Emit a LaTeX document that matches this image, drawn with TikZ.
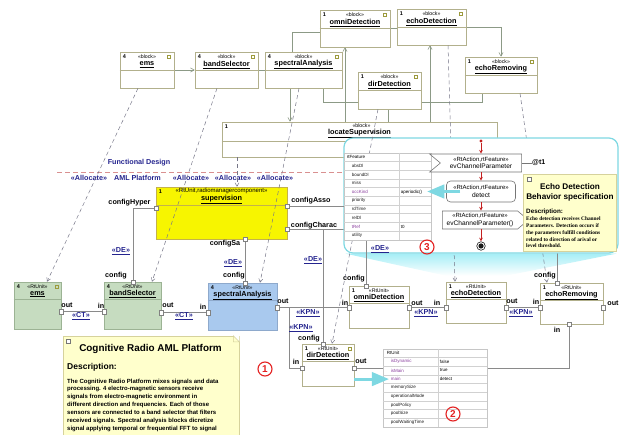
\documentclass[tikz,border=0pt]{standalone}
\usepackage{fontspec}
\setmainfont{Liberation Sans}
\newfontfamily\memoserif{Liberation Serif}
\usepackage{tikz}
\usetikzlibrary{positioning,shapes.symbols,arrows,calc,backgrounds}

\definecolor{ink}      {HTML}{1A1A1A}
\definecolor{blkedge}  {HTML}{B2B08C}
\definecolor{wirec}    {HTML}{8C9A86}
\definecolor{linkc}    {HTML}{8A8A8A}
\definecolor{rtgreen}  {HTML}{C6DCC0}
\definecolor{rtgreenln}{HTML}{9CB394}
\definecolor{rtblue}   {HTML}{A9C9EE}
\definecolor{rtblueln} {HTML}{8EA9CC}
\definecolor{supfill}  {HTML}{F7F500}
\definecolor{supln}    {HTML}{C4B24A}
\definecolor{memofill} {HTML}{FFFFCC}
\definecolor{memoln}   {HTML}{D6D29C}
\definecolor{navyink}  {HTML}{24248E}
\definecolor{flowred}  {HTML}{C42020}
\definecolor{numred}   {HTML}{E42222}
\definecolor{aqua}     {HTML}{7ED8E2}
\definecolor{aquafill} {HTML}{A6EEF6}
\definecolor{lilac}    {HTML}{8A3F9E}
\definecolor{sepred}   {HTML}{D99090}
\definecolor{dashc}    {HTML}{767688}
\definecolor{icoc}     {HTML}{9C9A3C}
\colorlet{rowc}{ink!20}
\tikzset{
  >=angle 60,
  % --- nodes
  blk/.style    = {draw=blkedge, fill=white, line width=0.6pt, inner sep=0pt},
  mult/.style   = {font=\fontsize{5.5}{6}\selectfont\bfseries, anchor=north west, inner sep=0pt},
  stereo/.style = {font=\fontsize{5.2}{6}\selectfont, inner sep=0pt},
  bname/.style  = {font=\fontsize{7.3}{8}\selectfont\bfseries, inner sep=0pt},
  ico/.style    = {draw=icoc, line width=0.5pt, minimum width=3pt, minimum height=3.5pt, inner sep=0pt},
  pageico/.style= {draw=ink!60, fill=white, line width=0.4pt, minimum width=3.5pt,
                   minimum height=4.5pt, inner sep=0pt},
  port/.style   = {draw=ink!55, fill=white, line width=0.4pt, minimum size=4.5pt, inner sep=0pt},
  plbl/.style   = {font=\fontsize{7.2}{8}\selectfont\bfseries, inner sep=0.5pt},
  rel/.style    = {font=\fontsize{7.2}{8}\selectfont\bfseries, text=navyink, inner sep=0.5pt},
  tag/.style    = {font=\fontsize{7.2}{8}\selectfont\bfseries, text=navyink, inner sep=0pt},
  memo/.style   = {draw=memoln, fill=memofill, line width=0.5pt, inner sep=0pt},
  cell/.style   = {font=\fontsize{4.5}{5}\selectfont, anchor=west, inner sep=0pt},
  act/.style    = {draw=ink!60, fill=white, line width=0.6pt, align=center, inner sep=1pt,
                   font=\fontsize{6.6}{7.6}\selectfont},
  num/.style    = {circle, draw=numred, line width=1.1pt, text=numred, minimum size=14pt,
                   inner sep=0pt, font=\fontsize{10}{10}\selectfont\bfseries},
  % --- edges
  wire/.style   = {draw=wirec, line width=0.6pt},
  link/.style   = {draw=linkc, line width=0.6pt},
  alloc/.style  = {->, draw=dashc, line width=0.5pt, dash pattern=on 4pt off 3pt},
  flow/.style   = {-stealth, draw=flowred, line width=0.7pt},
  hint/.style   = {-triangle 45, draw=aqua, line width=3pt},
}

\begin{document}
\begin{tikzpicture}[x=1pt, y=-1pt]
  \useasboundingbox (0,0) rectangle (634,435);
  \clip (0,0) rectangle (634,435);

  % block definition part
  \foreach \id/\nm/\mul/\xa/\ya/\xb/\yb in {
      bEms/ems/4/120/52/174/88, bBand/bandSelector/4/195/52/258/88,
      bSpec/spectralAnalysis/4/265/52/342/88, bOmni/omniDetection/1/320/10/390/47,
      bEcho/echoDetection/1/397/9/466/45, bRem/echoRemoving/1/465/57/537/93,
      bDir/dirDetection/1/358/72/421/109} {
    \node[blk, minimum width=\xb-\xa, minimum height=\yb-\ya] (\id) at ({(\xa+\xb)/2},{(\ya+\yb)/2}) {};
    \draw[blkedge, line width=0.5pt] ([yshift=-19pt]\id.north west) -- ([yshift=-19pt]\id.north east);
    \node[mult] (\id-m) at ([shift={(3pt,-2.5pt)}]\id.north west) {\mul};
    \node[stereo] (\id-s) at ([yshift=-5pt]\id.north) {«block»};
    \node[bname] (\id-n) at ([yshift=-13pt]\id.north) {\underline{\nm}};
    \node[ico] (\id-i) at ([shift={(-6pt,-5pt)}]\id.north east) {};
  }
  \node[blk, minimum width=275, minimum height=35] (locSup) at (359.5,139.5) {};
  \draw[blkedge, line width=0.5pt] ([yshift=-20pt]locSup.north west) -- ([yshift=-20pt]locSup.north east);
  \node[mult] (locSup-m) at ([shift={(3pt,-2.5pt)}]locSup.north west) {1};
  \node[stereo] (locSup-s) at ([shift={(2pt,-4pt)}]locSup.north) {«block»};
  \node[bname] (locSup-n) at ([yshift=-11.5pt]locSup.north) {\underline{locateSupervision}};

  % functional design / platform separation
  \draw[sepred, line width=0.6pt, dash pattern=on 5pt off 3pt] (57,172) -- (344,172);
  \node[tag] (fd) at (139,163) {Functional Design};
  \node[tag] (al1) at (89,178) {«Allocate»};
  \node[tag] (aml) at (137.5,178) {AML Platform};
  \node[tag] (al2) at (191,178) {«Allocate»};
  \node[tag] (al3) at (233,178) {«Allocate»};
  \node[tag] (al4) at (275,178) {«Allocate»};

  % platform part
  \node[blk, draw=supln, fill=supfill, minimum width=131, minimum height=52] (sup) at (221.5,213) {};
  \draw[supln, line width=0.5pt] ([yshift=-19pt]sup.north west) -- ([yshift=-19pt]sup.north east);
  \node[mult] (sup-m) at ([shift={(3pt,-2.5pt)}]sup.north west) {1};
  \node[stereo, font=\fontsize{6}{7}\selectfont] (sup-s) at ([yshift=-4.5pt]sup.north) {«RtUnit,radiomanagercomponent»};
  \node[bname] (sup-n) at ([yshift=-12.5pt]sup.north) {\underline{supervision}};

  \foreach \id/\nm/\mul/\xa/\ya/\xb/\yb/\fc/\dc in {
      emsU/ems/4/14/282/61/329/rtgreen/rtgreenln, bandU/bandSelector/4/104/282/161/329/rtgreen/rtgreenln,
      specU/spectralAnalysis/4/208/283/277/330/rtblue/rtblueln, omniU/omniDetection/1/349/286/409/328/white/blkedge,
      echoU/echoDetection/1/446/282/506/323/white/blkedge, remU/echoRemoving/1/540/283/603/324/white/blkedge,
      dirU/dirDetection/1/302/344/354/386/white/blkedge} {
    \node[blk, draw=\dc, fill=\fc, minimum width=\xb-\xa, minimum height=\yb-\ya] (\id) at ({(\xa+\xb)/2},{(\ya+\yb)/2}) {};
    \draw[\dc, line width=0.5pt] ([yshift=-18pt]\id.north west) -- ([yshift=-18pt]\id.north east);
    \node[mult] (\id-m) at ([shift={(3pt,-2.5pt)}]\id.north west) {\mul};
    \node[stereo] (\id-s) at ([yshift=-4.5pt]\id.north) {«RtUnit»};
    \node[bname] (\id-n) at ([yshift=-12.5pt]\id.north) {\underline{\nm}};
  }
  \node[ico] (emsU-i) at ([shift={(-5pt,-5pt)}]emsU.north east) {};
  \node[ico] (dirU-i) at ([shift={(-5pt,-5pt)}]dirU.north east) {};

  \foreach \pn/\px/\py in {emsOut/61/311.5, bandIn/104/311.5, bandOut/161/312.5, bandCfg/133/282,
      specIn/208/312.5, specOut/277/307.5, specCfg/245/283, omniIn/349/307.5, omniOut/409/307.5,
      omniCfg/366/286, echoIn/446/307.5, echoOut/506/307.5, remIn/540/307.5, remOut/603/307.5,
      remInB/569/324, remCfg/557/283, dirIn/302/368, dirOut/354/368, dirCfg/323/344,
      supHyper/156/208, supAsso/287/206, supCharac/287/229, supSa/245/239}
    \node[port] (\pn) at (\px,\py) {};

  \foreach \ln/\lx/\ly/\lt in {lHyper/129.5/203/configHyper, lAsso/311/201/configAsso,
      lCharac/314/226/configCharac, lSa/225/244/configSa, lBandCfg/116/276/config,
      lSpecCfg/234/276/config, lDirCfg/309/339/config, lOmniCfg/354/279/config,
      lRemCfg/545/276/config, lEmsOut/67/305/out, lBandIn/101/306/in, lBandOut/168/305/out,
      lSpecIn/203/307/in, lSpecOut/283/301/out, lOmniIn/345/303/in, lOmniOut/417/303/out,
      lEchoIn/437/303/in, lEchoOut/512/301/out, lRemIn/536/302/in, lRemOut/613/303/out,
      lRemInB/557/330/in, lDirIn/296/362/in, lDirOut/361/361/out}
    \node[plbl] (\ln) at (\lx,\ly) {\lt};

  \foreach \ln/\lx/\ly/\lt in {de1/121/251/DE, de2/233/263/DE, de3/313/260/DE,
      ct1/81/316/CT, ct2/184/316/CT, kpn1/308/313/KPN, kpn2/301/328/KPN,
      kpn3/426/313/KPN, kpn4/521/313/KPN}
    \node[rel] (\ln) at (\lx,\ly) {\underline{«\lt»}};

  % RtUnit property table
  \node[draw=ink!25, fill=white, line width=0.5pt, minimum width=104, minimum height=78, inner sep=0pt] (rtTab) at (435,388) {};
  \draw[rowc, line width=0.4pt] ([xshift=55pt]rtTab.north west) -- ([xshift=55pt]rtTab.south west);
  \foreach \k in {1,...,8}
    \draw[rowc, line width=0.4pt] ([yshift={-\k*8.667pt}]rtTab.north west) -- ([yshift={-\k*8.667pt}]rtTab.north east);
  \node[cell] (t2n0) at ([shift={(4pt,-4.33pt)}]rtTab.north west) {RtUnit};
  \foreach \k/\rn/\rv/\rc in {1/isDynamic/false/lilac, 2/isMain/true/lilac, 3/main/detect/lilac,
      4/memorySize//ink, 5/operationalMode//ink, 6/poolPolicy//ink, 7/poolSize//ink, 8/poolWaitingTime//ink} {
    \node[cell, text=\rc] (t2n\k) at ([shift={(8pt,{-(\k+0.5)*8.667pt})}]rtTab.north west) {\rn};
    \node[cell] (t2v\k) at ([shift={(57pt,{-(\k+0.5)*8.667pt})}]rtTab.north west) {\rv};
  }
  \draw[hint] (dirU.east |- t2n3.west) -- ([xshift=-2pt]t2n3.west);

  % description note
  \node[memo, minimum width=176, minimum height=110] (crNote) at (151,391) {};
  \fill[white] ([xshift=-6pt]crNote.north east) -- (crNote.north east) -- ([yshift=-6pt]crNote.north east) -- cycle;
  \draw[memoln, line width=0.5pt] ([xshift=-6pt]crNote.north east) -- ([shift={(-6pt,-6pt)}]crNote.north east)
    -- ([yshift=-6pt]crNote.north east) -- cycle;
  \node[pageico] (crIco) at (68,341) {};
  \node[font=\fontsize{9.9}{11}\selectfont\bfseries, inner sep=0pt] (crTitle) at (150.5,349) {Cognitive Radio AML Platform};
  \node[font=\fontsize{8.5}{10}\selectfont\bfseries, anchor=west, inner sep=0pt] (crDesc) at (67,367) {Description:};
  \node[font=\fontsize{6}{7.9}\selectfont\bfseries, anchor=north west, align=left, inner sep=0pt] (crBody) at (67,378.5) {%
    The Cognitive Radio Platform mixes signals and data\\
    processing. 4 electro-magnetic sensors receive\\
    signals from electro-magnetic environment in\\
    different direction and frequencies. Each of those\\
    sensors are connected to a band selector that filters\\
    received signals. Spectral analysis blocks dicretize\\
    signal applying temporal or frequential FFT to signal};

  % allocations
  \draw[alloc] ([xshift=-9pt]bEms.south) -- ([xshift=9.5pt]emsU.north);
  \draw[alloc] ([xshift=-9.5pt]bBand.south) -- ([xshift=19.5pt]bandU.north);
  \draw[alloc] ([xshift=-4.5pt]bSpec.south) -- ([xshift=17.5pt]specU.north);
  \draw[alloc] ([xshift=15.5pt]sup.north |- locSup.south) -- ([xshift=15.5pt]sup.north);
  \draw[alloc] ([xshift=16.5pt]bEcho.south) -- ([xshift=-21pt]echoU.north);
  \draw[alloc] ([xshift=19pt]bRem.south) -- ([xshift=-24.5pt]remU.north);

  % zoom on echoDetection behaviour
  \node[draw=aqua, fill=white, line width=1.2pt, rounded corners=9pt, minimum width=274,
        minimum height=115, inner sep=0pt] (zoomBox) at (481,195.5) {};
  \draw[link] (supAsso.east) -| (omniCfg.north);
  \draw[alloc] ([xshift=-11.5pt]bDir.south) -- ([xshift=4pt]dirU.north);
  \node[rel] (de4) at (380,249) {\underline{«DE»}};

  \node[draw=ink!25, fill=white, line width=0.5pt, minimum width=87, minimum height=87, inner sep=0pt] (rtfTab) at (387.5,196.5) {};
  \draw[rowc, line width=0.4pt] ([xshift=55pt]rtfTab.north west) -- ([xshift=55pt]rtfTab.south west);
  \foreach \k in {1,...,9}
    \draw[rowc, line width=0.4pt] ([yshift={-\k*8.7pt}]rtfTab.north west) -- ([yshift={-\k*8.7pt}]rtfTab.north east);
  \node[cell] (t1n0) at ([shift={(3pt,-4.35pt)}]rtfTab.north west) {rtFeature};
  \foreach \k/\rn/\rv/\rc in {1/absDl//ink, 2/boundDl//ink, 3/miss//ink, 4/occKind/aperiodic()/lilac,
      5/priority//ink, 6/rdTime//ink, 7/relDl//ink, 8/tRef/t0/lilac, 9/utility//ink} {
    \node[cell, text=\rc] (t1n\k) at ([shift={(8pt,{-(\k+0.5)*8.7pt})}]rtfTab.north west) {\rn};
    \node[cell] (t1v\k) at ([shift={(57pt,{-(\k+0.5)*8.7pt})}]rtfTab.north west) {\rv};
  }

  \node[circle, fill=flowred, minimum size=3.2pt, inner sep=0pt] (init) at (481,141) {};
  \node[act, shape=signal, signal from=west, signal to=nowhere, signal pointer angle=80,
        minimum width=92pt, minimum height=18pt] (acc) at (481,163)
        {{\fontsize{6}{7}\selectfont «RtAction,rtFeature»}\\evChannelParameter};
  \node[font=\fontsize{7}{8}\selectfont\bfseries, anchor=west, inner sep=0pt] (tOne) at (532,163) {@t1};
  \node[act, rounded corners=4pt, minimum width=69pt, minimum height=21pt] (det) at (481,191.5)
        {{\fontsize{6}{7}\selectfont «RtAction,rtFeature»}\\detect};
  \node[act, shape=signal, signal to=east, signal from=nowhere, signal pointer angle=80,
        minimum width=86pt, minimum height=18pt] (snd) at (480,220)
        {{\fontsize{6}{7}\selectfont «RtAction,rtFeature»}\\evChannelParameter()};
  \node[circle, draw=ink, fill=white, line width=0.6pt, minimum size=8.5pt, inner sep=0pt] (fin) at (481,246) {};
  \fill[ink] (fin.center) circle (2.6pt);
  \draw[flow] (init) -- (acc.north);
  \draw[flow] (acc.south) -- (acc.south |- det.north);
  \draw[flow] (det.south) -- (det.south |- snd.north);
  \draw[flow] (snd.south -| fin) -- (fin.north);
  \draw[ink!60, line width=0.5pt] (acc.east) -- (tOne.west);
  \draw[hint] ([xshift=14pt]det.west) -- ([xshift=5pt]t1v4.east |- det.west);

  \node[memo, minimum width=93, minimum height=77, anchor=north west] (echoNote) at (523,174) {};
  \node[pageico] (echoIco) at (529,179) {};
  \node[font=\fontsize{8.2}{10}\selectfont\bfseries, align=center, inner sep=0pt] (echoTitle) at (570,192)
        {Echo Detection\\Behavior specification};
  \node[font=\fontsize{6.3}{7}\selectfont\bfseries, anchor=west, inner sep=0pt] (echoDesc) at (526,212) {Description:};
  \node[font=\memoserif\fontsize{5.4}{6.8}\selectfont\bfseries, anchor=north west, align=left, inner sep=0pt]
        (echoBody) at (526,216.8) {%
    Echo detection receives Channel\\
    Parameters. Detection occurs if\\
    the parameters fulfill conditions\\
    related to direction of arival or\\
    level threshold.};

  \node[num] (n3) at (427,247) {3};
  \node[num] (n1) at (265,369) {1};
  \node[num] (n2) at (453,414) {2};

  \begin{pgfonlayer}{background}
    \shade[top color=aquafill, bottom color=white] ([xshift=2pt]zoomBox.south west) -- ([xshift=-2pt]zoomBox.south east)
      -- ([yshift=6pt]echoU.north east) -- ([yshift=6pt]echoU.north west) -- cycle;
    % block links
    \draw[wire, ->] (bEms.east) -- (bBand.west);
    \draw[wire] (bBand.east) -- (bSpec.west);
    \draw[wire] ([xshift=-11.5pt]bSpec.north) |- ([yshift=-3.5pt]bOmni.west);
    \draw[wire, ->] ([xshift=-13.5pt]bSpec.south) -- ([xshift=-13.5pt]bSpec.south |- locSup.north);
    \draw[wire] ([xshift=19.5pt]bSpec.south) -- ++(0,14) -| ([xshift=-19pt]bRem.south);
    \draw[wire] (bOmni.east) -- (bOmni.east -| bEcho.west);
    \draw[wire, ->] (bEcho.east) -| (bRem.north);
    \draw[wire, ->] ([xshift=-10pt]bOmni.south |- locSup.north) -- ([xshift=-10pt]bOmni.south);
    \draw[wire, ->] ([xshift=-1.5pt]bEcho.south |- locSup.north) -- ([xshift=-1.5pt]bEcho.south);
    \draw[wire] ([xshift=-1.5pt]bDir.south) -- ([xshift=-1.5pt]bDir.south |- locSup.north);
    % platform links
    \draw[link] (emsOut) -- (bandIn);
    \draw[link] (bandOut) -- (specIn);
    \draw[link] (specOut) -- (omniIn);
    \draw[link] (specOut) -- ++(12,0) |- (dirIn);
    \draw[link] (omniOut) -- (echoIn);
    \draw[link] (echoOut) -- (remIn);
    \draw[link] (remInB) |- (dirOut);
    \draw[link] (supHyper) -| (bandCfg);
    \draw[link] (supSa) -- (specCfg);
    \draw[link] (supCharac) -| (remCfg);
    \draw[link] (supCharac -| dirCfg) -- (dirCfg);
  \end{pgfonlayer}
\end{tikzpicture}
\end{document}
